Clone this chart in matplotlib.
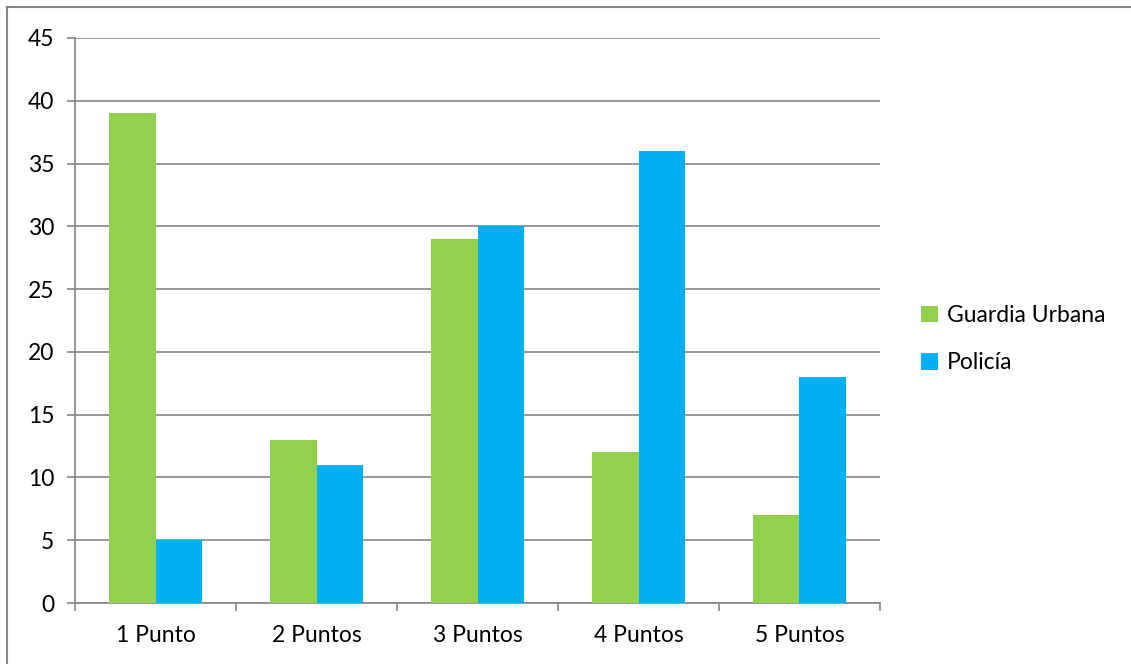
import numpy as np
import matplotlib.pyplot as plt
from matplotlib.lines import Line2D

categorias = ['1 Punto', '2 Puntos', '3 Puntos', '4 Puntos', '5 Puntos']
guardia_urbana = [39, 13, 29, 12, 7]
policia = [5, 11, 30, 36, 18]

plt.rcParams['font.family'] = ['Lato', 'DejaVu Sans']

fig = plt.figure(figsize=(11.31, 6.64), dpi=100)
ax = fig.add_axes([75 / 1131, 1 - 603 / 664, 805 / 1131, 565 / 664])

x = np.arange(len(categorias))
w = 0.29
ax.bar(x - w / 2, guardia_urbana, w, color='#92D050', label='Guardia Urbana', zorder=3)
ax.bar(x + w / 2, policia, w, color='#00B0F0', label='Policía', zorder=3)

ax.set_xlim(-0.5, 4.5)
ax.set_ylim(0, 45)
ax.set_yticks(range(0, 46, 5))
ax.yaxis.grid(True, color='#868686', linewidth=1.2, zorder=0)

ax.set_xticks(x)
ax.set_xticklabels(categorias, fontsize=16.5)
ax.tick_params(axis='x', length=0, pad=16)
ax.set_xticks(np.arange(-0.5, 5, 1), minor=True)
ax.tick_params(axis='x', which='minor', length=6, color='#868686', width=1.2)
ax.tick_params(axis='y', labelsize=16.5, length=6, color='#868686', width=1.2, pad=9)

for s in ['top', 'right']:
    ax.spines[s].set_visible(False)
for s in ['left', 'bottom']:
    ax.spines[s].set_color('#868686')
    ax.spines[s].set_linewidth(1.2)

ax.legend(loc='center left', bbox_to_anchor=(1.025, 0.467), frameon=False,
          fontsize=16.5, handlelength=0.75, handleheight=0.75, handletextpad=0.4,
          labelspacing=1.15)

# marco exterior: solo arriba e izquierda
fig.add_artist(Line2D([7 / 1131, 7 / 1131], [0, 1 - 7 / 664], transform=fig.transFigure,
                      color='#868686', linewidth=1.5))
fig.add_artist(Line2D([7 / 1131, 1], [1 - 7 / 664, 1 - 7 / 664], transform=fig.transFigure,
                      color='#868686', linewidth=1.5))

fig.savefig('out.png', dpi=100)
